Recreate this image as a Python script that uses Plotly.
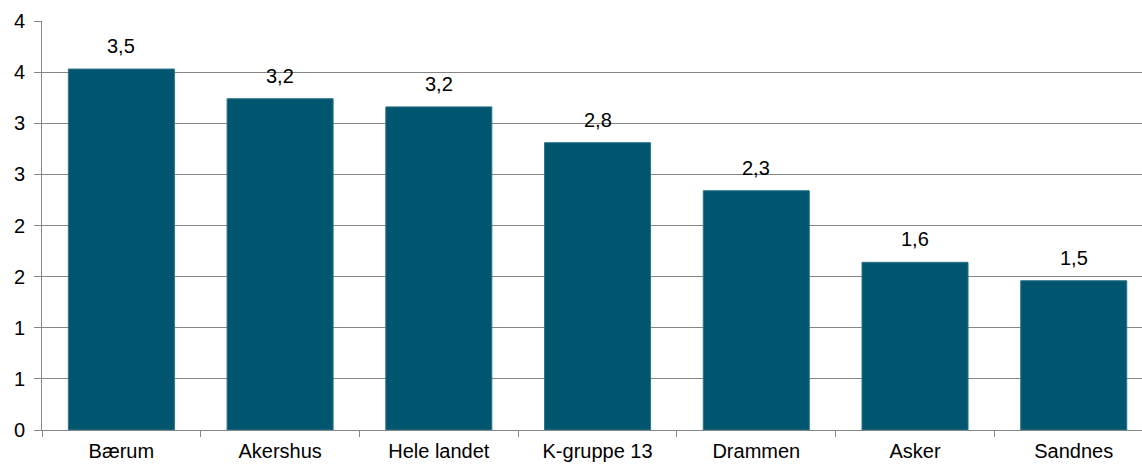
import plotly.graph_objects as go

categories = ["Bærum", "Akershus", "Hele landet", "K-gruppe 13", "Drammen", "Asker", "Sandnes"]
values = [3.53, 3.24, 3.16, 2.81, 2.34, 1.64, 1.46]
y_tick_values = [0, 0.5, 1, 1.5, 2, 2.5, 3, 3.5, 4]
y_tick_labels = ["0", "1", "1", "2", "2", "3", "3", "4", "4"]

bar_color = "#00566E"
grid_color = "#868686"
font_family = "Liberation Sans, Arial, sans-serif"

labels = [f"{v:.1f}".replace(".", ",") for v in values]

fig = go.Figure()
fig.add_trace(go.Bar(
    x=categories,
    y=values,
    marker=dict(color=bar_color, line=dict(color="#2E7487", width=1)),
    width=0.668,
    hoverinfo="skip",
))

for cat, v, lab in zip(categories, values, labels):
    fig.add_annotation(
        x=cat, y=v, text=lab, showarrow=False,
        yanchor="bottom", yshift=10,
        font=dict(family=font_family, size=20, color="#000000"),
    )

fig.update_layout(
    width=1142, height=464,
    margin=dict(l=42, r=0, t=21, b=34),
    paper_bgcolor="white", plot_bgcolor="white",
    showlegend=False,
    font=dict(family=font_family, size=20, color="#000000"),
)
fig.update_xaxes(
    type="category",
    tickson="boundaries",
    ticks="outside", ticklen=6, tickcolor=grid_color, tickwidth=1,
    showline=True, linecolor=grid_color, linewidth=1,
    showgrid=False,
    tickfont=dict(family=font_family, size=20),
    ticklabelstandoff=3,
    range=[-0.5, 6.43],
)
fig.update_yaxes(
    range=[0, 4],
    tickvals=y_tick_values, ticktext=y_tick_labels,
    ticks="outside", ticklen=7, tickcolor=grid_color, tickwidth=1,
    showline=True, linecolor=grid_color, linewidth=1,
    showgrid=True, gridcolor=grid_color, gridwidth=1,
    zeroline=False,
    tickfont=dict(family=font_family, size=20),
    ticklabelstandoff=5,
)

fig.write_html("out.html")
